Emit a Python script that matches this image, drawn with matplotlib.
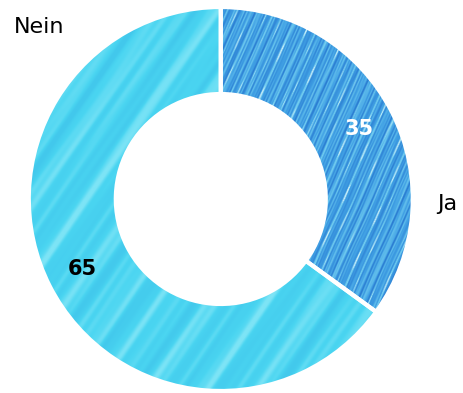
import numpy as np
import matplotlib
matplotlib.use("Agg")
import matplotlib.pyplot as plt
from matplotlib.patches import Wedge

labels = ["Ja", "Nein"]
values = [35, 65]
value_colors = ["white", "black"]
base_colors = ["#3c9be0", "#4ad5f1"]

cx, cy = 220.8, 194.0
r_out, r_in = 192.0, 105.0

fig = plt.figure(figsize=(4.63, 3.93), dpi=100)
ax = fig.add_axes([0, 0, 1, 1])

wedges, _ = ax.pie(values, radius=r_out, center=(cx, cy), startangle=90,
                   counterclock=False, colors=base_colors, frame=True,
                   wedgeprops=dict(width=r_out - r_in, edgecolor="none"))


def streaks(X, Y, angle, periods, phases, amps):
    # stripes running along `angle`, built from a few fixed sine waves
    t = np.deg2rad(angle)
    u = -X * np.sin(t) + Y * np.cos(t)
    v = X * np.cos(t) + Y * np.sin(t)
    s = np.zeros_like(X)
    for p, ph, a in zip(periods, phases, amps):
        s += a * np.sin(2 * np.pi * u / p + ph + 0.8 * np.sin(v / (5 * p)))
    s /= np.sum(amps)
    return s, u, v


n = 420
xs = np.linspace(cx - r_out, cx + r_out, n)
ys = np.linspace(cy + r_out, cy - r_out, n)
X, Y = np.meshgrid(xs, ys)
extent = (cx - r_out, cx + r_out, cy - r_out, cy + r_out)

# Ja: dense sharp streaks
s, u, v = streaks(X, Y, 66, [3.1, 4.7, 7.3, 11.9, 2.3], [0.3, 1.7, 2.9, 0.8, 4.1],
                  [1.0, 0.8, 0.9, 0.6, 0.5])
dark = np.array([42, 122, 208]) / 255
base = np.array([64, 160, 228]) / 255
light = np.array([115, 206, 240]) / 255
hi = np.array([215, 243, 250]) / 255
w_light = np.clip(s * 1.8, 0, 1)[..., None]
w_dark = np.clip(-s * 1.4, 0, 1)[..., None]
img = base + w_light * (light - base) + w_dark * (dark - base)
gate = 0.5 + 0.5 * np.sin(2 * np.pi * v / 47 + u * 0.31)
w_hi = (np.clip((s - 0.4) * 3, 0, 1) * np.clip((gate - 0.5) * 3, 0, 1))[..., None]
img = img + w_hi * (hi - img)
im = ax.imshow(np.clip(img, 0, 1), extent=extent, zorder=2, interpolation="bilinear")
im.set_clip_path(wedges[0])

# Nein: soft wide bands
s2, u2, v2 = streaks(X, Y, 55, [13.0, 23.0, 41.0, 8.3], [0.5, 2.2, 1.1, 3.3],
                     [0.6, 0.9, 1.0, 0.3])
base2 = np.array([74, 213, 241]) / 255
light2 = np.array([125, 228, 246]) / 255
dark2 = np.array([66, 200, 236]) / 255
wl = np.clip(s2 * 1.2, 0, 1)[..., None]
wd = np.clip(-s2 * 1.2, 0, 1)[..., None]
img2 = base2 + wl * (light2 - base2) + wd * (dark2 - base2)
im2 = ax.imshow(np.clip(img2, 0, 1), extent=extent, zorder=2, interpolation="bilinear")
im2.set_clip_path(wedges[1])

# white separators between slices
for w in wedges:
    ax.add_patch(Wedge((cx, cy), r_out, w.theta1, w.theta2, width=r_out - r_in,
                       fill=False, edgecolor="white", linewidth=3, zorder=3))

# values inside the ring
r_lab = 155
for w, val, col in zip(wedges, values, value_colors):
    mid = np.deg2rad((w.theta1 + w.theta2) / 2)
    ax.text(cx + r_lab * np.cos(mid), cy + r_lab * np.sin(mid), str(val),
            ha="center", va="center", fontsize=15, fontweight="bold",
            color=col, zorder=4)

# category names outside
ax.text(447, 189, labels[0], ha="center", va="center", fontsize=16, color="black")
ax.text(39, 366, labels[1], ha="center", va="center", fontsize=16, color="black")

ax.set_xlim(0, 463)
ax.set_ylim(0, 393)
ax.set_aspect("equal")
ax.axis("off")

fig.savefig("out.png", dpi=100)
